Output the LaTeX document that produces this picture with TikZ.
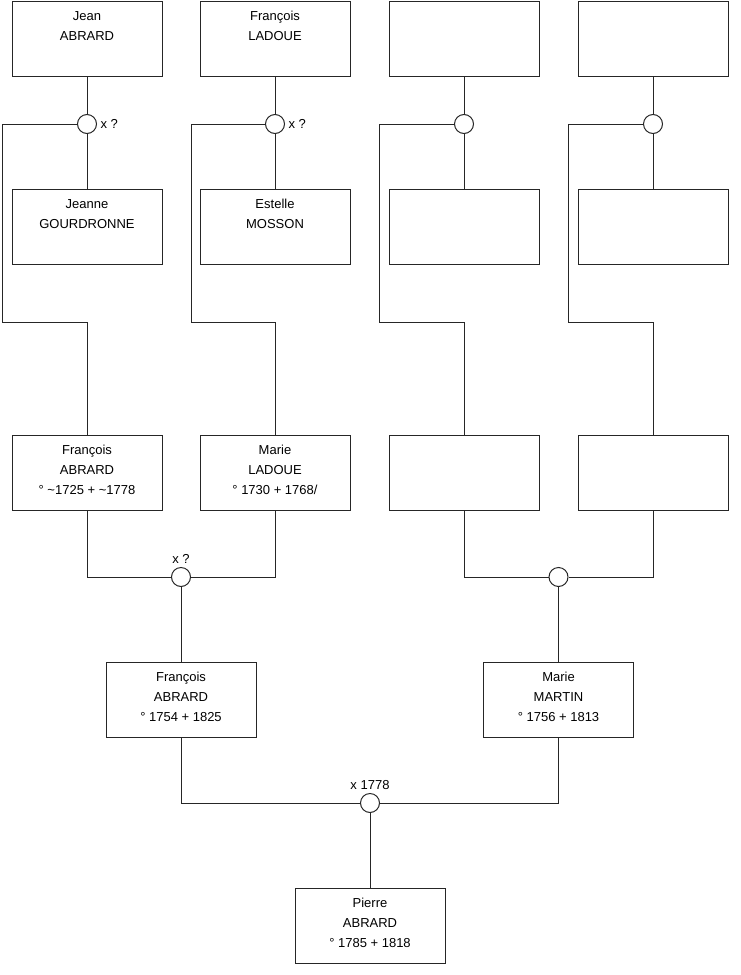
\documentclass[tikz,border=0pt]{standalone}
\usepackage{fontspec}
\setmainfont{Liberation Sans}
\newcommand{\ptext}[1]{\parbox[c][56.25pt][t]{112pt}{\centering\rule{0pt}{14.6pt}#1}}
\tikzset{
  person/.style={draw=black!85, line width=0.75pt, fill=white, rectangle,
    minimum width=112.5pt, minimum height=56.25pt, inner sep=0pt,
    font=\fontsize{9.75pt}{15pt}\selectfont},
  union/.style={draw=black!85, line width=0.75pt, fill=white, circle,
    minimum size=14.25pt, inner sep=0pt},
  lbl/.style={font=\fontsize{9.75pt}{11pt}\selectfont, inner sep=2.5pt},
  link/.style={draw=black!85, line width=0.75pt},
}
\begin{document}
\begin{tikzpicture}[x=0.75pt, y=-0.75pt]
\useasboundingbox (0,0) rectangle (740,975);
% row 1
\node[person] (t1) at (87,38.5) {\ptext{Jean\\ABRARD}};
\node[person] (t2) at (275,38.5) {\ptext{François\\LADOUE}};
\node[person] (t3) at (464,38.5) {};
\node[person] (t4) at (653,38.5) {};
% unions row 1
\node[union, label={[lbl]right:x ?}] (c1) at (87,124) {};
\node[union, label={[lbl]right:x ?}] (c2) at (275,124) {};
\node[union] (c3) at (464,124) {};
\node[union] (c4) at (653,124) {};
% row 2
\node[person] (g1) at (87,227) {\ptext{Jeanne\\GOURDRONNE}};
\node[person] (g2) at (275,227) {\ptext{Estelle\\MOSSON}};
\node[person] (g3) at (464,227) {};
\node[person] (g4) at (653,227) {};
% row 3
\node[person] (p1) at (87,473) {\ptext{François\\ABRARD\\° \textasciitilde1725 + \textasciitilde1778}};
\node[person] (p2) at (275,473) {\ptext{Marie\\LADOUE\\° 1730 + 1768/}};
\node[person] (p3) at (464,473) {};
\node[person] (p4) at (653,473) {};
% unions row 3
\node[union, label={[lbl]above:x ?}] (m1) at (181,577) {};
\node[union] (m2) at (558.5,577) {};
% row 4
\node[person] (f1) at (181,699.5) {\ptext{François\\ABRARD\\° 1754 + 1825}};
\node[person] (f2) at (558.5,699.5) {\ptext{Marie\\MARTIN\\° 1756 + 1813}};
% union row 4
\node[union, label={[lbl]above:x 1778}] (m0) at (370,803) {};
% row 5
\node[person] (pp) at (370,925.5) {\ptext{Pierre\\ABRARD\\° 1785 + 1818}};
% corner coordinates
\coordinate (k1) at (2,322);
\coordinate (k2) at (191,322);
\coordinate (k3) at (379,322);
\coordinate (k4) at (568,322);
% connectors top
\draw[link] (t1.south) -- (c1.north);
\draw[link] (c1.south) -- (g1.north);
\draw[link] (t2.south) -- (c2.north);
\draw[link] (c2.south) -- (g2.north);
\draw[link] (t3.south) -- (c3.north);
\draw[link] (c3.south) -- (g3.north);
\draw[link] (t4.south) -- (c4.north);
\draw[link] (c4.south) -- (g4.north);
\draw[link] (c1.west) -| (k1) -| (p1.north);
\draw[link] (c2.west) -| (k2) -| (p2.north);
\draw[link] (c3.west) -| (k3) -| (p3.north);
\draw[link] (c4.west) -| (k4) -| (p4.north);
% connectors middle
\draw[link] (p1.south) |- (m1.west);
\draw[link] (p2.south) |- (m1.east);
\draw[link] (m1.south) -- (f1.north);
\draw[link] (p3.south) |- (m2.west);
\draw[link] (p4.south) |- (m2.east);
\draw[link] (m2.south) -- (f2.north);
% connectors bottom
\draw[link] (f1.south) |- (m0.west);
\draw[link] (f2.south) |- (m0.east);
\draw[link] (m0.south) -- (pp.north);
\end{tikzpicture}
\end{document}
